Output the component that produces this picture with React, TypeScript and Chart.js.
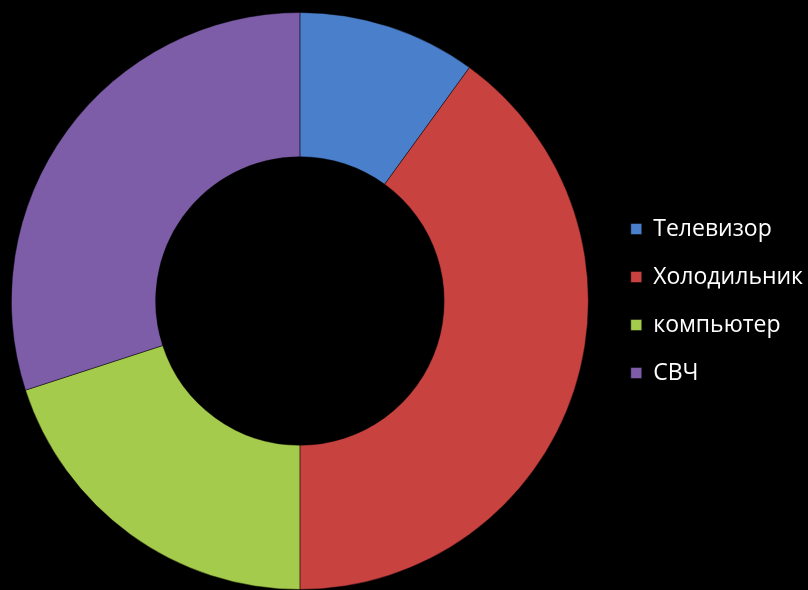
import React, { useEffect, useRef } from "react";
import { Chart, registerables } from "chart.js";

Chart.register(...registerables);

const categories = ["Телевизор", "Холодильник", "компьютер", "СВЧ"];
const values = [10, 40, 20, 30];
const colors = ["#4A7FCB", "#C8423F", "#A5CB4C", "#7D5CA8"];

export default function App() {
  const ref = useRef<HTMLCanvasElement | null>(null);
  useEffect(() => {
    document.body.style.margin = "0";
    document.body.style.background = "#000";
    const chart = new Chart(ref.current!, {
      type: "doughnut",
      data: {
        labels: categories,
        datasets: [
          {
            data: values,
            backgroundColor: colors,
            borderColor: "rgba(0,0,0,0.45)",
            borderWidth: 1,
          },
        ],
      },
      options: {
        animation: false,
        responsive: false,
        cutout: "50%",
        layout: { padding: { top: 12, bottom: 0, left: 0, right: -5 } },
        plugins: {
          tooltip: { enabled: false },
          legend: {
            position: "right",
            labels: {
              color: "#ffffff",
              boxWidth: 11,
              boxHeight: 11,
              padding: 25,
              font: { family: "Open Sans", size: 23 },
            },
          },
        },
      },
    });
    return () => chart.destroy();
  }, []);
  return (
    <div style={{ position: "absolute", left: 0, top: 0, width: 808, height: 590, background: "#000", overflow: "hidden" }}>
      <canvas ref={ref} width={814} height={590} style={{ position: "absolute", left: -6, top: 0, width: 814, height: 590, display: "block" }} />
    </div>
  );
}
